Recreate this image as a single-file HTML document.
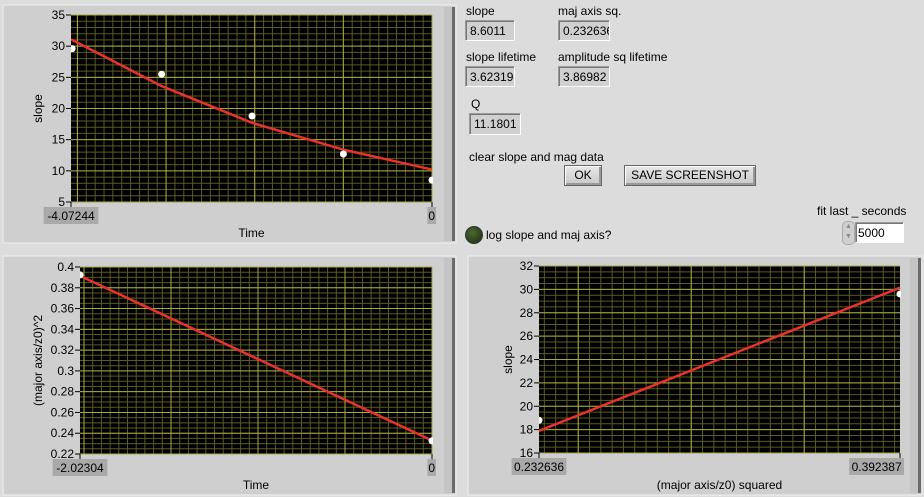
<!DOCTYPE html>
<html><head><meta charset="utf-8">
<style>
body{margin:0;width:924px;height:497px;background:#dcdcdc;font-family:"Liberation Sans",sans-serif;font-size:12px;color:#000;position:relative;overflow:hidden}
.lbl{position:absolute;white-space:nowrap}
.box{position:absolute;background:#d0d0d0;border:1px solid #fff;border-top-color:#9a9a9a;border-left-color:#9a9a9a;box-shadow:inset 1px 1px 0 #777;padding:3px 0 0 4px;box-sizing:border-box;font-size:12px;overflow:hidden;white-space:nowrap}
.btn{position:absolute;background:linear-gradient(#e8e8e8,#c8c8c8);border:1px solid #666;box-shadow:inset 1px 1px 0 #fff,inset -2px -2px 0 #999;text-align:center;line-height:19px;box-sizing:border-box}
</style></head><body>
<svg id="svg" width="924" height="497" style="position:absolute;left:0;top:0"></svg>

<div class="lbl" style="left:466px;top:4px">slope</div>
<div class="box" style="left:465px;top:20px;width:50px;height:21px">8.6011</div>
<div class="lbl" style="left:558px;top:4px">maj axis sq.</div>
<div class="box" style="left:558px;top:20px;width:52px;height:21px">0.232636</div>
<div class="lbl" style="left:466px;top:50px">slope lifetime</div>
<div class="box" style="left:465px;top:66px;width:50px;height:21px">3.62319</div>
<div class="lbl" style="left:558px;top:50px">amplitude sq lifetime</div>
<div class="box" style="left:558px;top:66px;width:52px;height:21px">3.86982</div>
<div class="lbl" style="left:471px;top:97px">Q</div>
<div class="box" style="left:469px;top:113px;width:52px;height:22px">11.1801</div>
<div class="lbl" style="left:469px;top:150px">clear slope and mag data</div>
<div class="btn" style="left:564px;top:165px;width:38px;height:21px">OK</div>
<div class="btn" style="left:624px;top:165px;width:132px;height:21px">SAVE SCREENSHOT</div>
<div style="position:absolute;left:465px;top:226px;width:16px;height:16px;border-radius:50%;background:radial-gradient(circle at 40% 35%,#4a6a30,#1a2a10);border:1px solid #333"></div>
<div class="lbl" style="left:486px;top:228px">log slope and maj axis?</div>
<div class="lbl" style="left:817px;top:204px">fit last _ seconds</div>
<div style="position:absolute;left:842px;top:221px;width:11px;height:22px;background:#cfcfcf;border:1px solid #aaa;border-radius:5px;font-size:7px;line-height:10px;text-align:center;color:#888">▲<br>▼</div>
<div class="box" style="left:855px;top:222px;width:49px;height:21px;background:#fff;padding-left:2px">5000</div>

<script>
// Chart 1: slope vs time
const c1PointX=[-4.06,-3.05,-2.03,-1.0,0];
const c1PointY=[29.6,25.5,18.8,12.7,8.5];
const c1FitX=[-4.07244,-3.05,-2.03,-1.0,0];
const c1FitY=[31.1,23.6,17.7,13.4,10.2];
const c1YTicks=[5,10,15,20,25,30,35];
const c1XLabels=["-4.07244","0"];
// Chart 2: (major axis/z0)^2 vs time
const c2PointX=[-2.02304,0];
const c2PointY=[0.392387,0.232636];
const c2FitX=[-2.02304,0];
const c2FitY=[0.3915,0.2330];
const c2YTicks=[0.22,0.24,0.26,0.28,0.3,0.32,0.34,0.36,0.38,0.4];
const c2XLabels=["-2.02304","0"];
// Chart 3: slope vs (major axis/z0) squared
const c3PointX=[0.232636,0.392387];
const c3PointY=[18.8,29.6];
const c3FitX=[0.232636,0.392387];
const c3FitY=[17.9,30.15];
const c3YTicks=[16,18,20,22,24,26,28,30,32];
const c3XLabels=["0.232636","0.392387"];

const NS="http://www.w3.org/2000/svg";
const svg=document.getElementById('svg');
function mk(tag,attrs,parent){const e=document.createElementNS(NS,tag);for(const k in attrs)e.setAttribute(k,attrs[k]);(parent||svg).appendChild(e);return e;}

function chart(o){
  const g=mk('g',{});
  
  
  // panel
  const p=mk('rect',{x:o.px,y:o.py,width:o.pw,height:o.ph,fill:'#cfcfcf',stroke:'#f0f0f0'},g);
  
  
  mk('rect',{x:o.px+o.pw-12,y:o.py+2,width:9,height:o.ph-4,fill:'#c4c4c4'},g);
  mk('rect',{x:o.px+o.pw-4,y:o.py+2,width:3,height:o.ph-4,fill:'#6a6a6a'},g);
  const sx=v=>o.x0+(v-o.xmin)/(o.xmax-o.xmin)*(o.x1-o.x0);
  const sy=v=>o.y1-(v-o.ymin)/(o.ymax-o.ymin)*(o.y1-o.y0);
  const bg=mk('rect',{x:o.x0,y:o.y0,width:o.x1-o.x0,height:o.y1-o.y0,fill:'#000'},g);
  
  
  // minor grid
  const n=Math.round((o.xmax-o.xmin)/o.xminor)+2;
  const xs=Math.ceil(o.xmin/o.xminor-1e-6);
  for(let i=xs;i*o.xminor<=o.xmax+1e-9;i++){const X=sx(i*o.xminor);mk('line',{x1:X,x2:X,y1:o.y0,y2:o.y1,stroke:'#5a5a22','stroke-width':1},g);}
  for(let v=o.ymin;v<=o.ymax+1e-9;v+=o.yminor){const Y=sy(v);mk('line',{x1:o.x0,x2:o.x1,y1:Y,y2:Y,stroke:'#5a5a22','stroke-width':1},g);}
  // major grid
  const xm=Math.ceil(o.xmin/o.xmajor-1e-6);
  for(let i=xm;i*o.xmajor<=o.xmax+1e-9;i++){const X=sx(i*o.xmajor);mk('line',{x1:X,x2:X,y1:o.y0,y2:o.y1,stroke:'#a8a840','stroke-width':1},g);}
  o.yt.forEach(v=>{const Y=sy(v);mk('line',{x1:o.x0,x2:o.x1,y1:Y,y2:Y,stroke:'#a8a840','stroke-width':1},g);
    mk('line',{x1:o.x0-5,x2:o.x0,y1:Y,y2:Y,stroke:'#000'},g);
    const t=mk('text',{x:o.x0-6,y:Y+4,'text-anchor':'end','font-size':12,fill:'#000'},g);t.textContent=String(v);
    
    });
  // x ends
  [[o.xmin,o.xl[0]],[o.xmax,o.xl[1]]].forEach(([v,s],i)=>{const X=sx(v);
    mk('line',{x1:X,x2:X,y1:o.y1,y2:o.y1+5,stroke:'#000'},g);
    const w=s.length*6.6+2; const lx=i==0?X-22-(s.length>1?0:0):X-w+3;
    const bx=i==0?Math.max(o.px+3,X-w/2):X-w+4;
    mk('rect',{x:bx,y:o.y1+5,width:w,height:17,fill:'#a9a9a9'},g);
    const t=mk('text',{x:bx+w/2,y:o.y1+18,'text-anchor':'middle','font-size':12},g);t.textContent=s;
    
    });
  const xt=mk('text',{x:(o.x0+o.x1)/2,y:o.py+o.ph-6,'text-anchor':'middle','font-size':12},g);xt.textContent=o.xtitle;
  
  
  const yt=mk('text',{x:0,y:0,'text-anchor':'middle','font-size':12,transform:`translate(${o.ytx},${(o.y0+o.y1)/2}) rotate(-90)`},g);yt.textContent=o.ytitle;
  
  
  // fit line
  const cp=mk('clipPath',{id:o.name+'c'},g);mk('rect',{x:o.x0,y:o.y0,width:o.x1-o.x0+1,height:o.y1-o.y0},cp);
  const pts=o.fx.map((v,i)=>sx(v)+','+sy(o.fy[i])).join(' ');
  const pl=mk('polyline',{points:pts,fill:'none',stroke:'#e8332a','stroke-width':2.5,'clip-path':`url(#${o.name}c)`},g);
  
  
  o.dx.forEach((v,i)=>{const c=mk('circle',{cx:sx(v),cy:sy(o.dy[i]),r:3.5,fill:'#fff','clip-path':`url(#${o.name}c)`},g);
    
    });
}

chart({name:'slope-time-chart',px:3,py:5,pw:453,ph:238,x0:71,x1:432,y0:15,y1:202,xmin:-4.07244,xmax:0,ymin:5,ymax:35,
  xminor:0.1,xmajor:1,yminor:1,yt:c1YTicks,xl:c1XLabels,xtitle:'Time',ytitle:'slope',ytx:42,dx:c1PointX,dy:c1PointY,fx:c1FitX,fy:c1FitY});
chart({name:'major-axis-time-chart',px:3,py:256,pw:453,ph:239,x0:80,x1:432,y0:267,y1:454,xmin:-2.02304,xmax:0,ymin:0.22,ymax:0.4,
  xminor:0.05,xmajor:0.5,yminor:0.005,yt:c2YTicks,xl:c2XLabels,xtitle:'Time',ytitle:'(major axis/z0)^2',ytx:42,dx:c2PointX,dy:c2PointY,fx:c2FitX,fy:c2FitY});
chart({name:'slope-major-axis-chart',px:468,py:256,pw:454,ph:239,x0:539,x1:900,y0:266,y1:453,xmin:0.232636,xmax:0.392387,ymin:16,ymax:32,
  xminor:0.005,xmajor:0.05,yminor:0.5,yt:c3YTicks,xl:c3XLabels,xtitle:'(major axis/z0) squared',ytitle:'slope',ytx:512,dx:c3PointX,dy:c3PointY,fx:c3FitX,fy:c3FitY});
</script>
</body></html>
